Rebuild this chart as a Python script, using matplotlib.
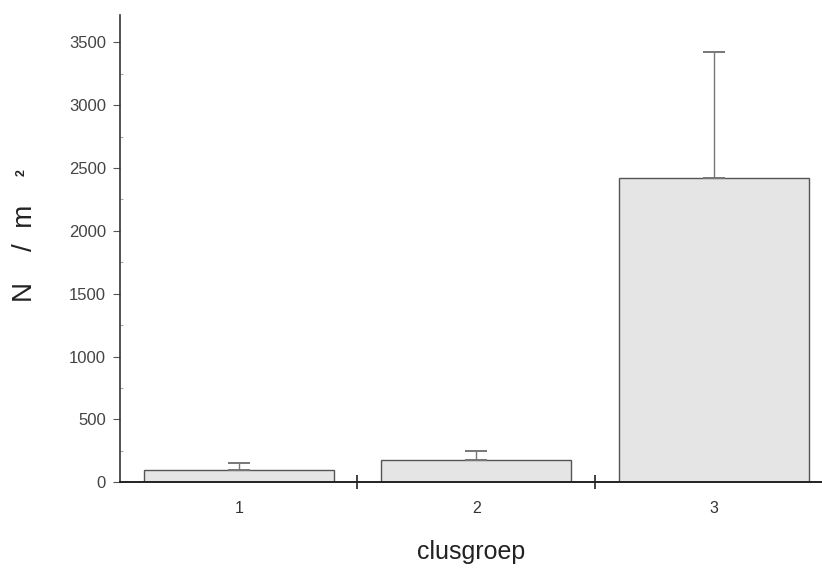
import matplotlib.pyplot as plt
from matplotlib.ticker import MultipleLocator

GROUPS = ["1", "2", "3"]
MEAN = [100, 180, 2420]
ERR_UP = [50, 70, 1000]
YTICKS = [0, 500, 1000, 1500, 2000, 2500, 3000, 3500]

plt.rcParams["font.family"] = ["Liberation Sans", "DejaVu Sans"]


def main() -> None:
    fig = plt.figure(figsize=(8.22, 5.70), dpi=100)
    ax = fig.add_axes([0.146, 0.154, 0.854, 0.819])

    x = [1, 2, 3]
    ax.bar(x, MEAN, width=0.8, color="#e5e5e5", edgecolor="#555555",
           linewidth=1.0, zorder=2)
    # one-sided (upper) error bars only
    ax.errorbar(x, MEAN, yerr=[[0] * len(MEAN), ERR_UP], fmt="none",
                ecolor="#777777", elinewidth=1.0, capsize=8, capthick=1.4,
                zorder=3)

    ax.set_xlim(0.5, 3.456)
    ax.set_ylim(0, 3715)

    for side in ("top", "right"):
        ax.spines[side].set_visible(False)
    ax.spines["left"].set_color("#333333")
    ax.spines["bottom"].set_color("#222222")
    ax.spines["left"].set_linewidth(1.2)
    ax.spines["bottom"].set_linewidth(1.4)

    ax.set_yticks(YTICKS)
    ax.yaxis.set_minor_locator(MultipleLocator(250))
    ax.tick_params(axis="y", which="major", direction="out", length=5,
                   width=0.8, color="#555555", labelsize=12,
                   labelcolor="#444444", pad=5)
    ax.tick_params(axis="y", which="minor", direction="in", length=2,
                   width=0.8, color="#aaaaaa")

    # category boundaries carry cross ticks, labels sit at bar centres
    ax.set_xticks([1.5, 2.5])
    ax.set_xticklabels([])
    ax.tick_params(axis="x", which="major", direction="inout", length=10,
                   width=1.2, color="#222222")
    for xi, name in zip(x, GROUPS):
        ax.text(xi, -0.04, name, transform=ax.get_xaxis_transform(),
                ha="center", va="top", fontsize=11.5, color="#333333")

    ax.set_xlabel("clusgroep", fontsize=18, color="#222222", labelpad=33)
    ax.set_ylabel("N    /  m", fontsize=20, color="#222222")
    ax.yaxis.set_label_coords(-0.117, 0.49)
    # small exponent of the unit, set apart above the "m"
    ax.text(-0.14, 0.664, "2", transform=ax.transAxes, rotation=90,
            ha="center", va="center", fontsize=9, fontweight="bold",
            color="#222222")

    fig.savefig("out.png", dpi=100)


if __name__ == "__main__":
    main()
